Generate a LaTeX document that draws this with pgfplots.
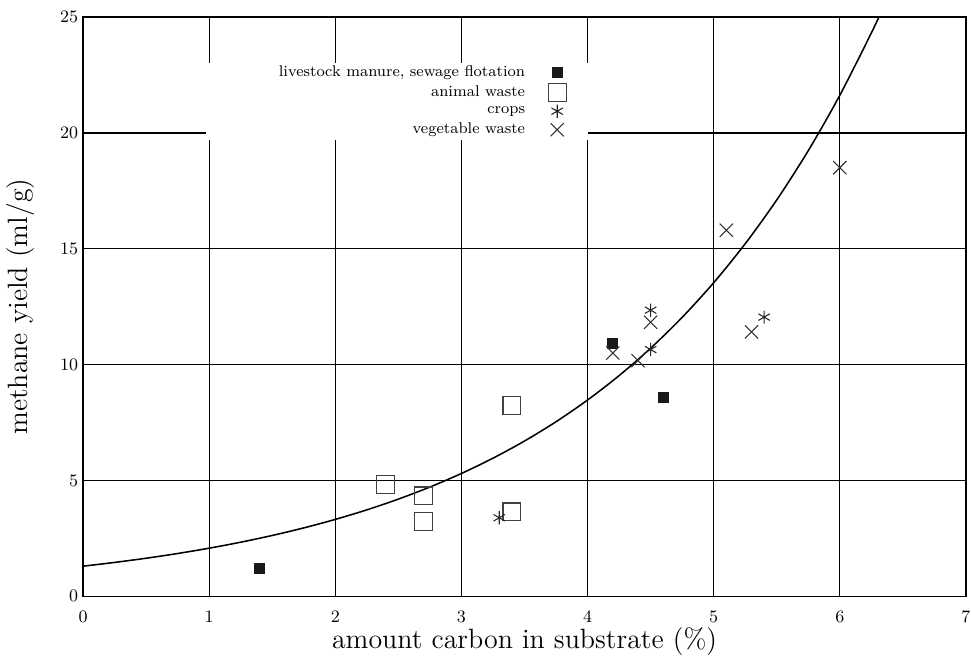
\documentclass[border=0pt]{standalone}
\usepackage{pgfplots}
\pgfplotsset{compat=1.18}
\begin{document}
\begin{tikzpicture}
\begin{axis}[
  scale only axis,
  width=455pt, height=298.5pt,
  xmin=0, xmax=7, ymin=0, ymax=25,
  xtick={0,1,...,7}, ytick={0,5,...,25},
  major tick length=0pt,
  grid=major,
  major grid style={black, line width=0.6pt},
  axis line style={black, line width=0.6pt},
  tick label style={font=\small},
  xticklabel style={yshift=-4pt},
  yticklabel style={xshift=1pt},
  xlabel={amount carbon in substrate (\%)},
  ylabel={methane yield (ml/g)},
  label style={font=\Large},
  xlabel style={yshift=4pt},
  ylabel style={yshift=6.5pt},
  legend plot pos=right,
  legend cell align=right,
  legend style={draw=none, fill=none, font=\footnotesize,
    at={(rel axis cs:0.552,0.931)}, anchor=north east,
    row sep=-0.5pt, inner sep=2pt,
    /tikz/every odd column/.append style={column sep=10pt}},
  clip=true,
]
\fill[white] (axis cs:0.975,19.7) rectangle (axis cs:4,23.0);
\addplot[only marks, mark=square*, mark size=2.6pt, color=black!90] coordinates {
  (1.4,1.2) (4.2,10.9) (4.6,8.6)
};
\addlegendentry{livestock manure, sewage flotation}
\addplot[only marks, mark=square, mark size=4.6pt, color=black!75, mark options={line width=0.6pt}] coordinates {
  (2.4,4.84) (2.7,4.33) (2.7,3.24) (3.4,8.23) (3.4,3.64)
};
\addlegendentry{animal waste}
\addplot[only marks, mark=asterisk, mark size=3.4pt, color=black!85, mark options={line width=0.55pt}] coordinates {
  (3.3,3.39) (4.5,12.35) (4.5,10.65) (5.4,12.05)
};
\addlegendentry{crops}
\addplot[only marks, mark=x, mark size=4.8pt, color=black!80, mark options={line width=0.55pt}] coordinates {
  (4.2,10.5) (4.4,10.17) (4.5,11.83) (5.3,11.41) (5.1,15.8) (6.0,18.5)
};
\addlegendentry{vegetable waste}
\addplot[black, line width=0.8pt, smooth, forget plot] coordinates {
  (0,1.300) (0.25,1.462) (0.5,1.643) (0.75,1.847) (1.0,2.077) (1.25,2.335)
  (1.5,2.626) (1.75,2.952) (2.0,3.319) (2.25,3.731) (2.5,4.195) (2.75,4.716)
  (3.0,5.302) (3.25,5.961) (3.5,6.702) (3.75,7.535) (4.0,8.472) (4.25,9.525)
  (4.5,10.709) (4.75,12.040) (5.0,13.536) (5.25,15.218) (5.5,17.110)
  (5.75,19.236) (6.0,21.627) (6.25,24.315) (6.35,25.48)
};
\end{axis}
\pgfresetboundingbox
\path[use as bounding box] ([xshift=-42.8pt,yshift=-30.4pt]current axis.south west) rectangle ([xshift=2.6pt,yshift=8.8pt]current axis.north east);
\end{tikzpicture}
\end{document}
